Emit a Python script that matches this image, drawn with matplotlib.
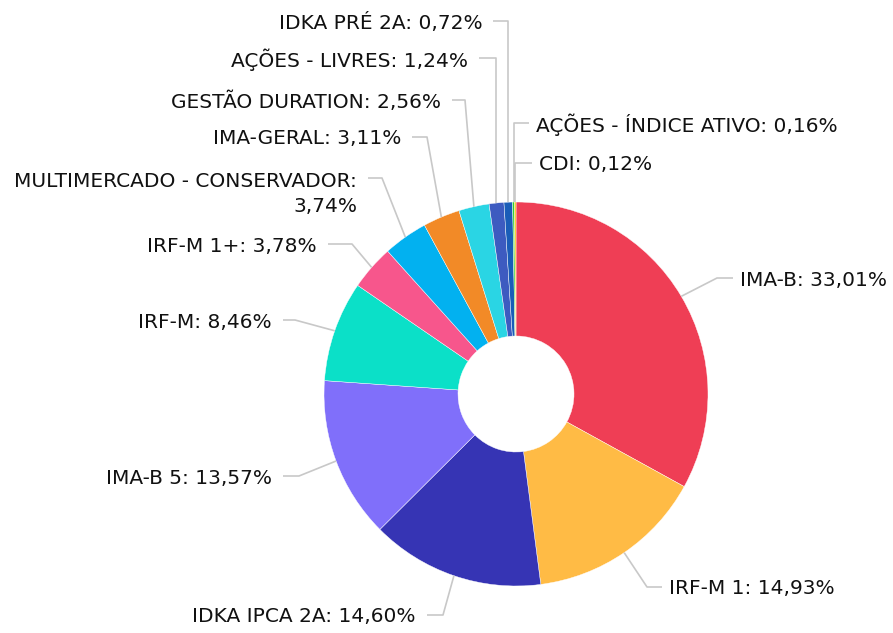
import matplotlib
matplotlib.use("Agg")
import matplotlib.pyplot as plt
import numpy as np

# ---- data ----
categories = ["IMA-B", "IRF-M 1", "IDKA IPCA 2A", "IMA-B 5", "IRF-M", "IRF-M 1+",
              "MULTIMERCADO - CONSERVADOR", "IMA-GERAL", "GESTÃO DURATION",
              "AÇÕES - LIVRES", "IDKA PRÉ 2A", "AÇÕES - ÍNDICE ATIVO", "CDI"]
values = [33.01, 14.93, 14.60, 13.57, 8.46, 3.78, 3.74, 3.11, 2.56, 1.24, 0.72, 0.16, 0.12]
colors = ["#EF3E55", "#FFBB45", "#3634B4", "#806FFA", "#0BE0C8", "#F7568C",
          "#02B1F0", "#F28A27", "#2AD5E4", "#3D5BC0", "#1A5DB8", "#2FD12F", "#F5C400"]

# ---- layout (pixel coords, y from top) ----
W, H = 893, 633
cx, cy, R, r_in = 516, 394, 192, 58
# elbow point (x, y) and horizontal segment length (+ right, - left)
elbows = [(717, 278, 16), (647, 587, 15), (443, 615, -16), (299, 476, -16),
          (295, 320, -12), (352, 244, -24), (382, 178, -14), (427, 137, -15),
          (465, 100, -13), (None, 58, -17), (None, 21, -15), (None, 123, 15),
          (None, 163, 17)]
two_line = {6}
FS = 14.5

fig = plt.figure(figsize=(W / 100, H / 100), dpi=100)
ax = fig.add_axes([0, 0, 1, 1])

wedges, _ = ax.pie(values, colors=colors, startangle=90, counterclock=False,
                   radius=R, center=(cx, H - cy), frame=True,
                   wedgeprops=dict(width=R - r_in, edgecolor="white", linewidth=0.3))
ax.set_xlim(0, W)
ax.set_ylim(0, H)
ax.set_aspect("auto")
ax.axis("off")

def fmt(v):
    return f"{v:.2f}".replace(".", ",") + "%"

for i, (w, cat, v) in enumerate(zip(wedges, categories, values)):
    ang = np.deg2rad((w.theta1 + w.theta2) / 2)
    sx = cx + R * np.cos(ang)
    sy = (H - cy) + R * np.sin(ang)
    ex, ey, hl = elbows[i]
    if ex is None:
        ex = sx
    ey = H - ey
    hx = ex + hl
    ax.plot([sx, ex, hx], [sy, ey, ey], color="#C8C8C8", lw=1.2,
            solid_capstyle="butt", zorder=1)
    if i in two_line:
        label = f"{cat}:\n{fmt(v)}"
        ty = ey - 16
    else:
        label = f"{cat}: {fmt(v)}"
        ty = ey - 2
    if hl > 0:
        ax.text(hx + 7, ty, label, ha="left", va="center", fontsize=FS,
                color="#111111", family="DejaVu Sans")
    else:
        ax.text(hx - 11, ty, label, ha="right", va="center", fontsize=FS,
                color="#111111", family="DejaVu Sans", multialignment="right",
                linespacing=1.45)

fig.savefig("out.png", dpi=100)
